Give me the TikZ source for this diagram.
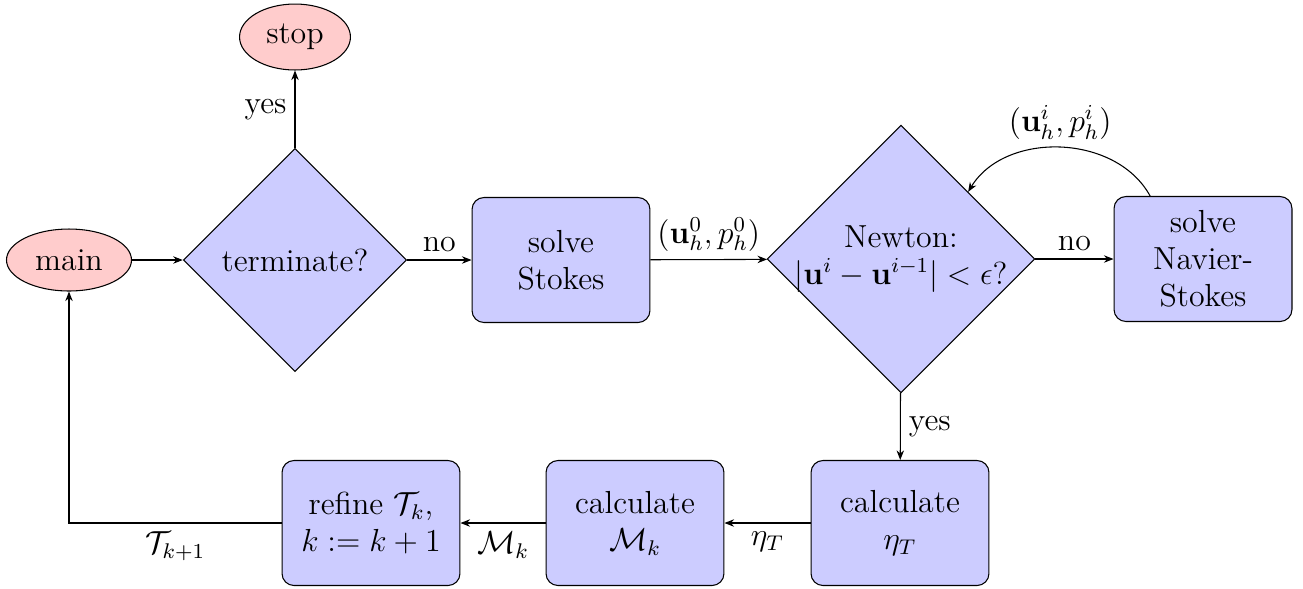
\documentclass[tikz,border=0pt]{standalone}
\usetikzlibrary{shapes.geometric,arrows.meta,positioning}
\begin{document}
\begin{tikzpicture}[x=0.376pt,y=-0.376pt,
  font=\large,
  base/.style={draw=black, line width=0.4pt},
  term/.style={base, ellipse, fill=red!20, inner sep=0pt},
  decision/.style={base, diamond, aspect=1, fill=blue!20, inner sep=0pt, align=center},
  proc/.style={base, rectangle, rounded corners=4.5pt, fill=blue!20, minimum width=66.9pt, minimum height=47pt, align=center, inner sep=2pt},
  conn/.style={line width=0.4pt, -{Stealth[length=3.6pt,width=2.8pt]}},
  lbl/.style={inner sep=3pt}]
\useasboundingbox (0,0) rectangle (1303,588);

\node[term, minimum width=47pt, minimum height=23.3pt] (main) at (69,260) {main};
\node[term, minimum width=41.7pt, minimum height=24.8pt] (stop) at (295,37) {stop};
\node[decision, minimum width=84pt, minimum height=84pt] (term) at (295,260) {terminate?};
\node[proc] (stokes) at (561,260) {solve\\Stokes};
\node[decision, minimum width=100.6pt, minimum height=100.6pt, inner sep=-2.5pt] (newton) at (901,259) {Newton:\\$|\mathbf{u}^i-\mathbf{u}^{i-1}|<\epsilon$?};
\node[proc] (navier) at (1203,259) {solve\\Navier-\\Stokes};
\node[proc] (eta) at (900,523) {calculate\\$\eta_T$};
\node[proc] (mark) at (635,523) {calculate\\$\mathcal{M}_k$};
\node[proc] (refine) at (371,523) {refine $\mathcal{T}_k$,\\$k:=k+1$};

\draw[conn] (main) -- (term);
\draw[conn] (term) -- node[lbl, left] {yes} (stop);
\draw[conn] (term) -- node[lbl, above] {no} (stokes);
\draw[conn] (stokes) -- node[lbl, above] {$(\mathbf{u}_h^0,p_h^0)$} (newton);
\draw[conn] (newton) -- node[lbl, above] {no} (navier);
\draw[conn] (navier.130) to[bend right=60] node[lbl, above] {$(\mathbf{u}_h^i,p_h^i)$} (newton.north east);
\draw[conn] (newton) -- node[lbl, right] {yes} (eta);
\draw[conn] (eta) -- node[lbl, below] {$\eta_T$} (mark);
\draw[conn] (mark) -- node[lbl, below] {$\mathcal{M}_k$} (refine);
\draw[conn] (refine.west) -| node[lbl, pos=0.25, below] {$\mathcal{T}_{k+1}$} (main.south);
\end{tikzpicture}
\end{document}
